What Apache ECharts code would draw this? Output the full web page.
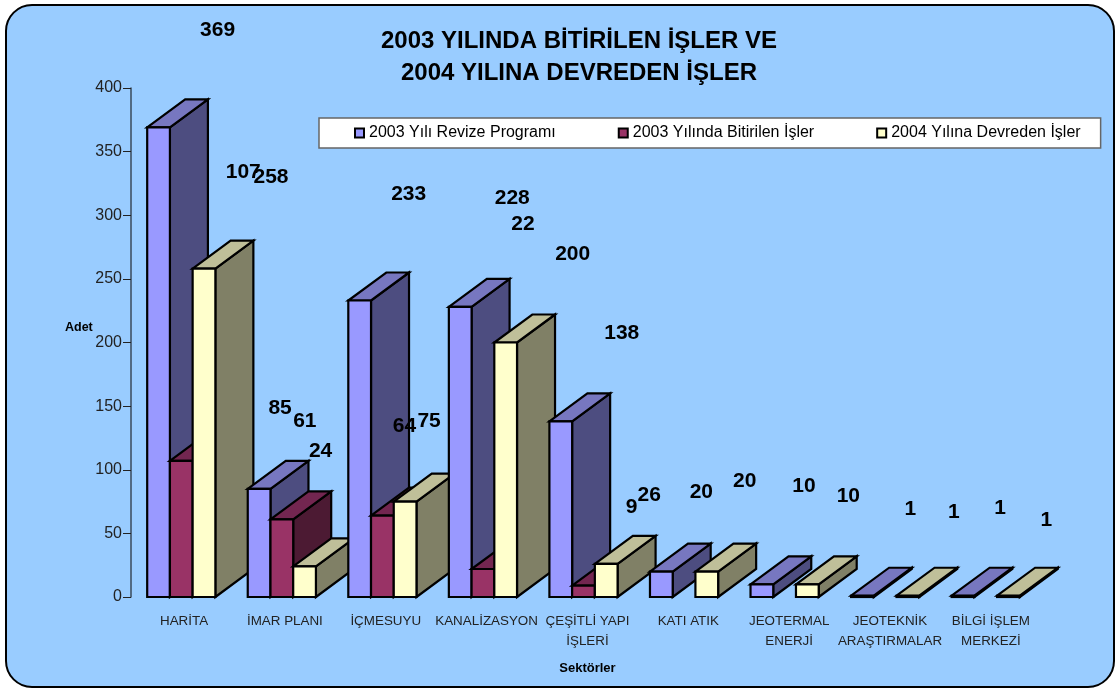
<!DOCTYPE html>
<html>
<head>
<meta charset="utf-8">
<title>2003 Yılında Bitirilen İşler</title>
<script src="https://cdn.jsdelivr.net/npm/echarts@6/dist/echarts.min.js"></script>
<style>
html, body { margin: 0; padding: 0; background: #fff; }
#chart { width: 1118px; height: 689px; }
</style>
</head>
<body>
<div id="chart"></div>
<script>
var categories = ['HARİTA', 'İMAR PLANI', 'İÇMESUYU', 'KANALİZASYON', 'ÇEŞİTLİ YAPI\nİŞLERİ', 'KATI ATIK', 'JEOTERMAL\nENERJİ', 'JEOTEKNİK\nARAŞTIRMALAR', 'BİLGİ İŞLEM\nMERKEZİ'];
var seriesNames = ['2003 Yılı Revize Programı', '2003 Yılında Bitirilen İşler', '2004 Yılına Devreden İşler'];
var revizeProgram = [369, 85, 233, 228, 138, 20, 10, 1, 1];
var bitirilen = [107, 61, 64, 22, 9, null, null, null, null];
var devreden = [258, 24, 75, 200, 26, 20, 10, 1, 1];
var yTicks = { min: 0, max: 400, interval: 50 };

// renk: on, ust, yan
var barColors = [
	['#9999FF', '#7777C0', '#4D4D80'],
	['#993366', '#732650', '#4C1A33'],
	['#FFFFCC', '#BFBF99', '#808066']
];
// etiketler orijinalde cubuklardan uzakta duruyor, kaydirmalar elle okundu
var labelShift = [
	[[59, -97], [21, -81], [49, -106], [52, -109], [61, -88], [40, -79], [42, -98], [48, -87], [37, -88]],
	[[62, -289], [23, -98], [22, -89], [40, -345], [48, -78], null, null, null, null],
	[[67, -91], [16, -115], [24, -80], [67, -88], [43, -69], [38, -90], [41, -88], [46, -84], [38, -76]]
];
var depthX = 38, depthY = -28;

function bar3d(s) {
	return function(params, api) {
		var c = api.value(0), v = api.value(1);
		if (isNaN(v)) return;
		var band = api.size([1, 0])[0];
		var w = band * 0.226;
		var base = api.coord([c, 0]);
		var top = api.coord([c, v]);
		var x0 = base[0] + (s - 1.5) * w, x1 = x0 + w;
		var y0 = base[1], y1 = top[1];
		var z = (c * 3 + s) * 10;
		var col = barColors[s];
		var shift = labelShift[s][c];
		function poly(points, fill, zz) {
			return {
				type: 'polygon', z2: zz, silent: true,
				shape: { points: points },
				style: { fill: fill, stroke: '#000', lineWidth: 2.2, lineJoin: 'miter' }
			};
		}
		return {
			type: 'group',
			children: [
				poly([[x1, y0], [x1 + depthX, y0 + depthY], [x1 + depthX, y1 + depthY], [x1, y1]], col[2], z + 1),
				poly([[x0, y1], [x1, y1], [x1 + depthX, y1 + depthY], [x0 + depthX, y1 + depthY]], col[1], z + 2),
				poly([[x0, y0], [x1, y0], [x1, y1], [x0, y1]], col[0], z + 3),
				{
					type: 'text', z2: 1000, silent: true,
					style: {
						x: (x0 + x1) / 2 + shift[0], y: y1 + shift[1],
						text: String(v), fill: '#000',
						font: 'bold 21px "Liberation Sans"',
						align: 'center', verticalAlign: 'middle'
					}
				}
			]
		};
	};
}

function makeSeries(s, values) {
	var rows = [];
	for (var i = 0; i < values.length; i++) {
		rows.push([i, values[i]]);
	}
	return {
		name: seriesNames[s],
		type: 'custom',
		xAxisIndex: 0,
		yAxisIndex: 0,
		renderItem: bar3d(s),
		encode: { x: 0, y: 1 },
		itemStyle: { color: barColors[s][0], borderColor: '#000', borderWidth: 2 },
		data: rows
	};
}

var myChart = echarts.init(document.getElementById('chart'));
var option = {
	animation: false,
	textStyle: { fontFamily: '"Liberation Sans"' },
	graphic: [{
		type: 'rect', z: -10, silent: true,
		shape: { x: 6, y: 5, width: 1108, height: 682, r: 26 },
		style: { fill: '#99CCFF', stroke: '#000', lineWidth: 2 }
	}, {
		// eksen adi orijinalde ortada degil, biraz yukarida
		type: 'text', silent: true, left: 65, top: 321,
		style: { text: 'Adet', fill: '#000', font: 'bold 12.5px "Liberation Sans"' }
	}],
	title: {
		text: '2003 YILINDA BİTİRİLEN İŞLER VE\n2004 YILINA DEVREDEN İŞLER',
		left: 574, top: 20, textAlign: 'center',
		textStyle: { fontFamily: '"Liberation Sans"', fontSize: 24, fontWeight: 'bold', color: '#000', lineHeight: 32 }
	},
	legend: {
		left: 319, top: 118,
		orient: 'horizontal',
		icon: 'rect',
		itemWidth: 9, itemHeight: 9, itemGap: 62,
		padding: [7, 20, 7, 35],
		backgroundColor: '#fff',
		borderColor: '#666',
		borderWidth: 1.5,
		selectedMode: false,
		textStyle: { fontSize: 16, color: '#000' },
		data: seriesNames
	},
	grid: [
		{ left: 131, top: 88, width: 905, height: 509 },
		// kategori yazilari cubuklardan biraz daha genis aralikli
		{ left: 133.6, top: 88, width: 907.7, height: 509 }
	],
	xAxis: [
		{
			type: 'category', gridIndex: 0, data: categories,
			axisLine: { show: false }, axisTick: { show: false }, axisLabel: { show: false }
		},
		{
			type: 'category', gridIndex: 1, data: categories,
			axisLine: { show: false }, axisTick: { show: false },
			axisLabel: { interval: 0, fontSize: 13.4, color: '#222', margin: 14, lineHeight: 20 },
			name: 'Sektörler', nameLocation: 'middle', nameGap: 65,
			nameTextStyle: { fontSize: 13, fontWeight: 'bold', color: '#000' }
		}
	],
	yAxis: [
		{
			type: 'value', gridIndex: 0, min: yTicks.min, max: yTicks.max, interval: yTicks.interval,
			axisLine: { show: true, lineStyle: { color: '#3A4A5A', width: 1.5 } },
			axisTick: { show: true, length: 8, lineStyle: { color: '#222', width: 1 } },
			axisLabel: { fontSize: 16, color: '#222', margin: 9 },
			splitLine: { show: false }
		},
		{ type: 'value', gridIndex: 1, show: false, min: 0, max: 400 }
	],
	series: [makeSeries(0, revizeProgram), makeSeries(1, bitirilen), makeSeries(2, devreden)]
};
myChart.setOption(option);
window.onresize = myChart.resize;
</script>
</body>
</html>
